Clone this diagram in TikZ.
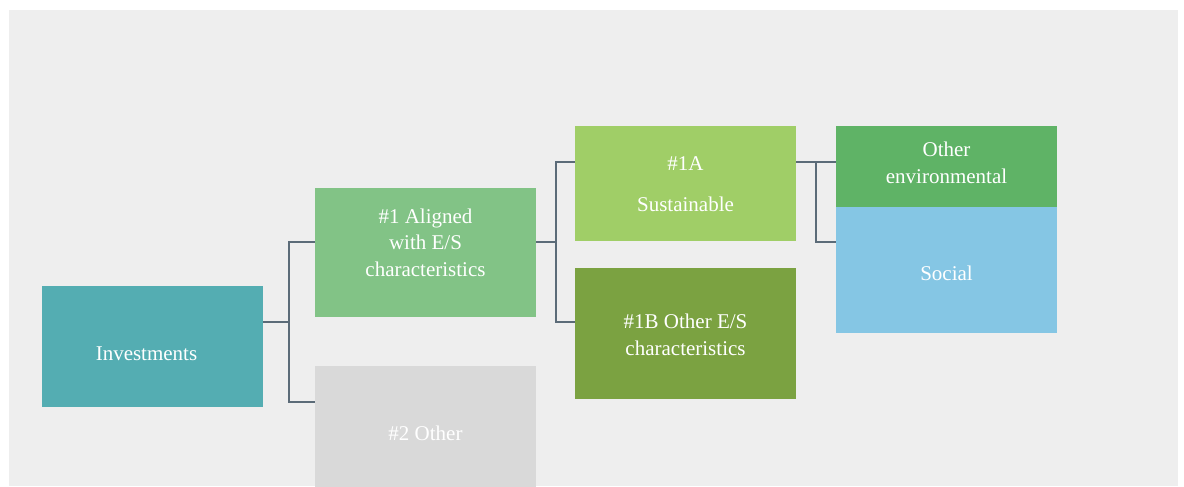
\documentclass[tikz,border=0pt]{standalone}
\usepackage{fontspec}
\setmainfont{Liberation Serif}
\usepackage{tikz}
\usetikzlibrary{positioning}
\usepackage{xcolor}
\definecolor{bggray}{HTML}{EEEEEE}
\definecolor{teal}{HTML}{54ADB2}
\definecolor{midgreen}{HTML}{82C386}
\definecolor{lightgray}{HTML}{D9D9D9}
\definecolor{limegreen}{HTML}{A0CE67}
\definecolor{olivegreen}{HTML}{7BA241}
\definecolor{envgreen}{HTML}{5FB366}
\definecolor{skyblue}{HTML}{85C6E4}
\definecolor{linegray}{HTML}{5B6B78}
% text block raised by #1 inside its box
\newcommand{\boxtext}[2]{\raisebox{#1}[0pt][0pt]{\begin{tabular}{@{}c@{}}#2\end{tabular}}}

\begin{document}
\begin{tikzpicture}[x=0.75pt, y=-0.75pt]
      \tikzstyle{box} = [rectangle, draw=none, text=white, minimum width=165.75pt, inner sep=0pt, font=\fontsize{15.75}{19.9}\selectfont]
      \tikzstyle{link} = [draw=linegray, line width=1.5pt]

      \clip (0,0) rectangle (1184,486);
      \fill[bggray] (9,10) rectangle (1178,486);

      \node[box, fill=teal, minimum height=90.75pt] (inv) at (152.5,346.5) {\boxtext{-9.9pt}{Investments\hspace*{9pt}}};
      \node[box, fill=midgreen, minimum height=96.75pt] (al) at (425.5,252.5) {\boxtext{2.6pt}{\#1 Aligned\\with E/S\\characteristics}};
      \node[box, fill=lightgray, minimum height=96.75pt] (ot) at (425.5,430.5) {\boxtext{-6.9pt}{\#2 Other}};
      \node[box, fill=limegreen, minimum height=86.25pt] (sa) at (685.5,183.5) {\boxtext{-5.4pt}{\#1A\\[11pt]Sustainable}};
      \node[box, fill=olivegreen, minimum height=98.25pt] (sb) at (685.5,333.5) {\boxtext{-6.15pt}{\#1B Other E/S\\characteristics}};
      \node[box, fill=envgreen, minimum height=60.75pt] (env) at (946.5,166.5) {\boxtext{-2.4pt}{Other\\environmental}};
      \node[box, fill=skyblue, minimum height=94.5pt] (soc) at (946.5,270) {\boxtext{-7.65pt}{Social}};

      \draw[link] (inv.east |- 0,322) -- (289,322);
      \draw[link] (al.west |- 0,242) -| (289,322) |- (ot.west |- 0,402);
      \draw[link] (al.east |- 0,242) -- (556,242);
      \draw[link] (sa.west |- 0,162) -| (556,242) |- (sb.west |- 0,322);
      \draw[link] (sa.east |- 0,162) -- (env.west |- 0,162);
      \draw[link] (816,162) |- (soc.west |- 0,242);
    \end{tikzpicture}
\end{document}
